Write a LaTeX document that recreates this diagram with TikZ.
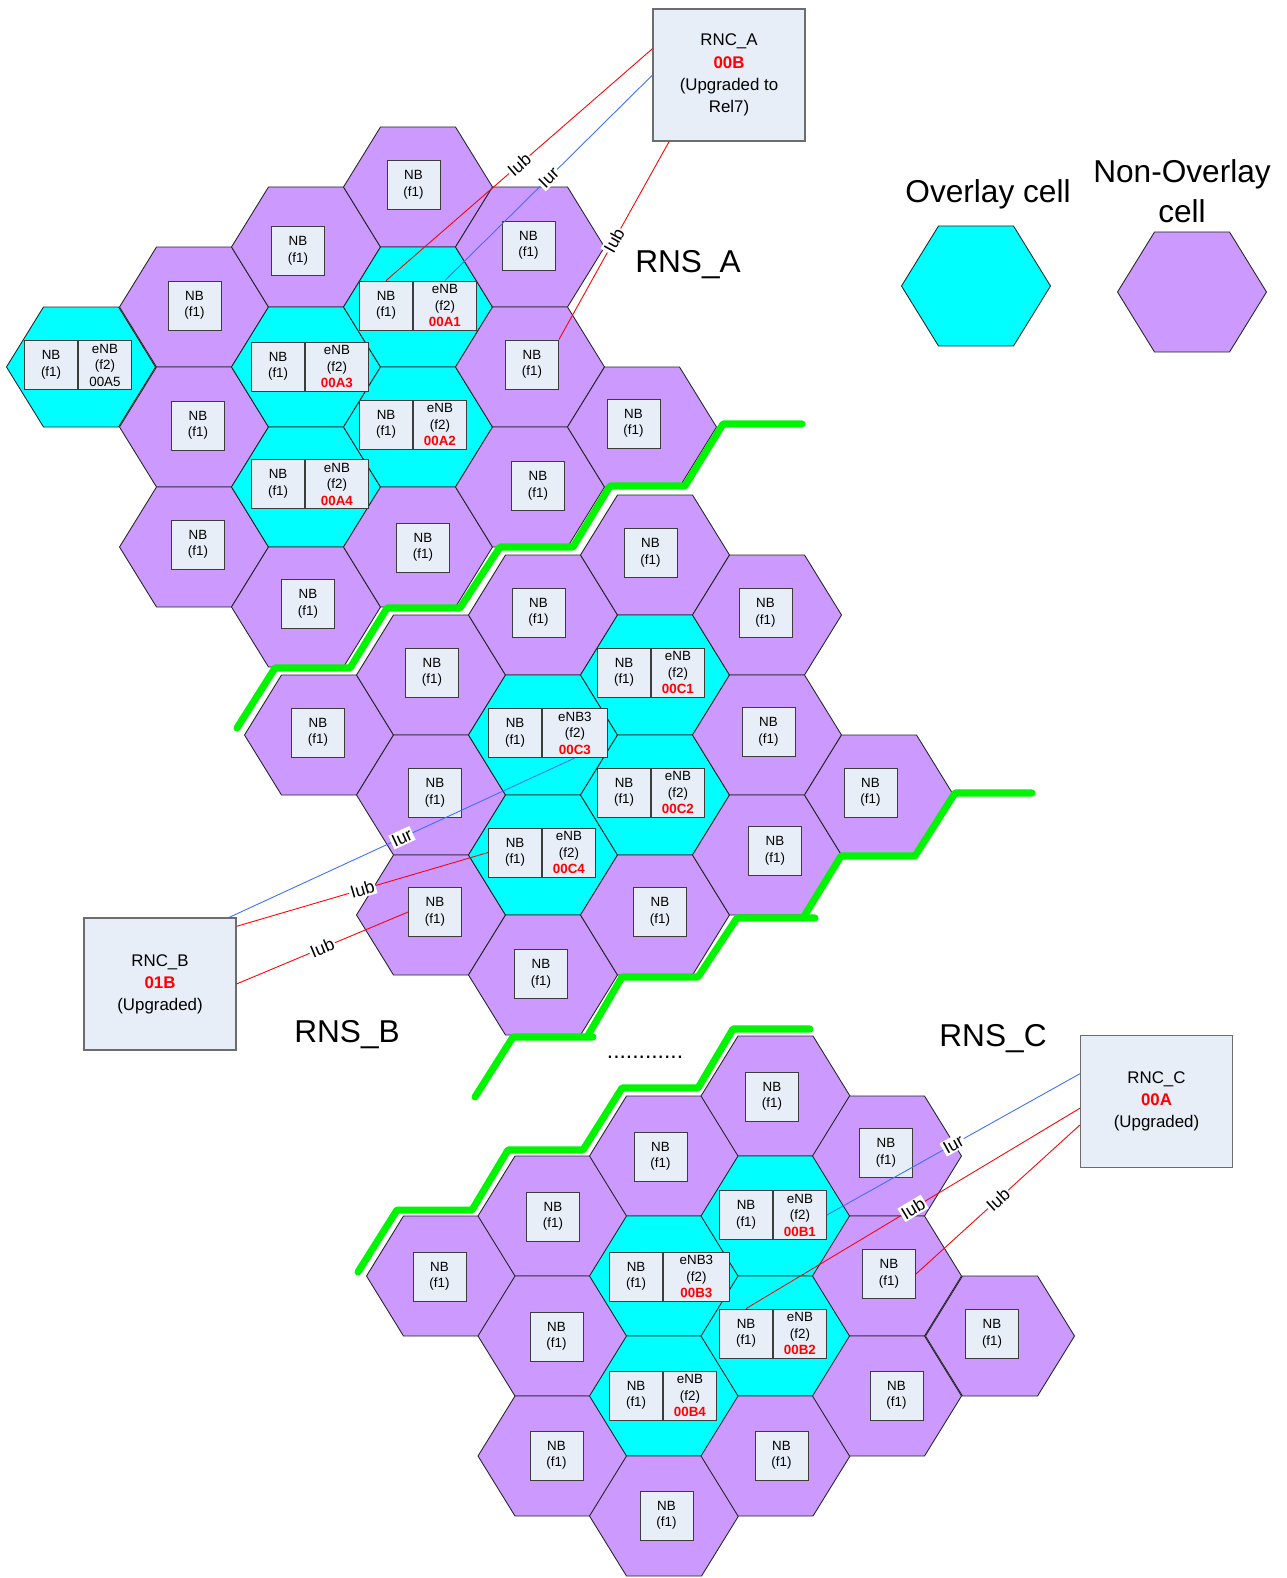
\documentclass[tikz,border=0pt]{standalone}
\usepackage{fontspec}
\setmainfont{Liberation Sans}
\usetikzlibrary{positioning}
\definecolor{cellpurple}{RGB}{204,153,255}
\definecolor{cellcyan}{RGB}{0,255,255}
\definecolor{boxfill}{RGB}{232,238,247}
\definecolor{boxline}{RGB}{60,60,60}
\definecolor{rnsgreen}{RGB}{0,245,0}
\definecolor{iurblue}{RGB}{60,110,255}
\definecolor{codered}{RGB}{255,0,0}

\tikzset{
  hexedge/.style={draw=black!85, line width=0.5pt},
  nbbox/.style={draw=boxline, fill=boxfill, line width=0.5pt, minimum width=1.06cm, minimum height=0.98cm, inner sep=0pt, align=center, font=\fontsize{7.6}{9.4}\selectfont},
  enbwide/.style={nbbox, minimum width=1.26cm},
  rncbox/.style={draw=boxline!75, fill=boxfill, line width=0.6pt, minimum width=3.04cm, minimum height=2.64cm, inner sep=0pt, align=center, font=\fontsize{9.6}{12.6}\selectfont},
  rnslabel/.style={font=\fontsize{18}{22}\selectfont, inner sep=0pt},
  linklabel/.style={fill=white, inner sep=0.8pt, sloped, font=\fontsize{10}{12}\selectfont},
  iub/.style={draw=red, line width=0.5pt},
  iur/.style={draw=iurblue, line width=0.5pt},
  rnsborder/.style={draw=rnsgreen, line width=4pt, line cap=round, line join=round}
}
\newcommand{\hexcell}[3]{%
  \filldraw[hexedge, fill=#3] (#1,#2) ++(-74.5,0) -- ++(37,-60) -- ++(75,0) -- ++(37,60) -- ++(-37,60) -- ++(-75,0) -- cycle;}
\newcommand{\cellcode}[1]{\textcolor{codered}{\bfseries #1}}

\begin{document}
\begin{tikzpicture}[x=0.02cm, y=-0.02cm]
  \useasboundingbox (0,0) rectangle (1287,1578);

  % RNS_A cells
  \hexcell{81}{367}{cellcyan}
  \hexcell{194}{307}{cellpurple}
  \hexcell{194}{427}{cellpurple}
  \hexcell{194}{547}{cellpurple}
  \hexcell{306}{247}{cellpurple}
  \hexcell{306}{367}{cellcyan}
  \hexcell{306}{487}{cellcyan}
  \hexcell{306}{607}{cellpurple}
  \hexcell{418}{187}{cellpurple}
  \hexcell{418}{307}{cellcyan}
  \hexcell{418}{427}{cellcyan}
  \hexcell{418}{547}{cellpurple}
  \hexcell{530}{247}{cellpurple}
  \hexcell{530}{367}{cellpurple}
  \hexcell{530}{487}{cellpurple}
  \hexcell{642}{427}{cellpurple}

  % RNS_B cells
  \hexcell{319}{735}{cellpurple}
  \hexcell{431}{675}{cellpurple}
  \hexcell{431}{795}{cellpurple}
  \hexcell{431}{915}{cellpurple}
  \hexcell{543}{615}{cellpurple}
  \hexcell{543}{735}{cellcyan}
  \hexcell{543}{855}{cellcyan}
  \hexcell{543}{975}{cellpurple}
  \hexcell{655}{555}{cellpurple}
  \hexcell{655}{675}{cellcyan}
  \hexcell{655}{795}{cellcyan}
  \hexcell{655}{915}{cellpurple}
  \hexcell{767}{615}{cellpurple}
  \hexcell{767}{735}{cellpurple}
  \hexcell{767}{855}{cellpurple}
  \hexcell{879}{795}{cellpurple}

  % RNS_C cells
  \hexcell{441}{1276}{cellpurple}
  \hexcell{552.5}{1216}{cellpurple}
  \hexcell{552.5}{1336}{cellpurple}
  \hexcell{552.5}{1456}{cellpurple}
  \hexcell{664}{1156}{cellpurple}
  \hexcell{664}{1276}{cellcyan}
  \hexcell{664}{1396}{cellcyan}
  \hexcell{664}{1516}{cellpurple}
  \hexcell{775.5}{1096}{cellpurple}
  \hexcell{775.5}{1216}{cellcyan}
  \hexcell{775.5}{1336}{cellcyan}
  \hexcell{775.5}{1456}{cellpurple}
  \hexcell{887}{1156}{cellpurple}
  \hexcell{887}{1276}{cellpurple}
  \hexcell{887}{1396}{cellpurple}
  \hexcell{1000}{1336}{cellpurple}

  % Legend
  \hexcell{976}{286}{cellcyan}
  \hexcell{1192}{292}{cellpurple}
  \node[rnslabel, anchor=base] (overlaytext) at (988,203) {Overlay cell};
  \node[rnslabel, anchor=base] (nonoverlaytext) at (1182,183) {Non-Overlay};
  \node[rnslabel, anchor=base] (nonoverlaycell) at (1182,223) {cell};

  % RNS borders
  \draw[rnsborder] (802,424) -- (723,424) -- (685,486) -- (610,486) -- (573,547) -- (500,547) -- (460,608) -- (387,608) -- (350,668) -- (275,668) -- (237,728);
  \draw[rnsborder] (1032,793) -- (955,793) -- (915,856) -- (841,856) -- (803,918);
  \draw[rnsborder] (815,918) -- (737,918) -- (698,977) -- (622,977) -- (587,1037);
  \draw[rnsborder] (593,1037) -- (513,1037) -- (475,1097);
  \draw[rnsborder] (810,1029) -- (733,1029) -- (698,1088) -- (622,1088) -- (583,1150) -- (508,1150) -- (472,1210) -- (397,1210) -- (358,1272);

  % RNS_A base stations
  \node[nbbox] (nba1) at (413.5,185) {NB\\(f1)};
  \node[nbbox] (nba2) at (298,251) {NB\\(f1)};
  \node[nbbox] (nba3) at (194.5,305.5) {NB\\(f1)};
  \node[nbbox] (nba4) at (528.5,245.5) {NB\\(f1)};
  \node[nbbox] (nba5) at (532,364.5) {NB\\(f1)};
  \node[nbbox] (nba6) at (198,425.5) {NB\\(f1)};
  \node[nbbox] (nba7) at (633.5,423.5) {NB\\(f1)};
  \node[nbbox] (nba8) at (538,486) {NB\\(f1)};
  \node[nbbox] (nba9) at (198,544.5) {NB\\(f1)};
  \node[nbbox] (nba10) at (423,547.5) {NB\\(f1)};
  \node[nbbox] (nba11) at (308,604) {NB\\(f1)};

  \node[nbbox, anchor=east] (nbA5) at (78,365) {NB\\(f1)};
  \node[nbbox, anchor=west] (enbA5) at (nbA5.east) {eNB\\(f2)\\00A5};
  \node[nbbox, anchor=east] (nbA3) at (305,366.5) {NB\\(f1)};
  \node[enbwide, anchor=west] (enbA3) at (nbA3.east) {eNB\\(f2)\\\cellcode{00A3}};
  \node[nbbox, anchor=east] (nbA1) at (413,305.5) {NB\\(f1)};
  \node[enbwide, anchor=west] (enbA1) at (nbA1.east) {eNB\\(f2)\\\cellcode{00A1}};
  \node[nbbox, anchor=east] (nbA2) at (413,424.5) {NB\\(f1)};
  \node[nbbox, anchor=west] (enbA2) at (nbA2.east) {eNB\\(f2)\\\cellcode{00A2}};
  \node[nbbox, anchor=east] (nbA4) at (305,484) {NB\\(f1)};
  \node[enbwide, anchor=west] (enbA4) at (nbA4.east) {eNB\\(f2)\\\cellcode{00A4}};

  % RNS_B base stations
  \node[nbbox] (nbb1) at (650.5,553) {NB\\(f1)};
  \node[nbbox] (nbb2) at (538.5,612.5) {NB\\(f1)};
  \node[nbbox] (nbb3) at (765.5,613) {NB\\(f1)};
  \node[nbbox] (nbb4) at (432,672.5) {NB\\(f1)};
  \node[nbbox] (nbb5) at (318,732.5) {NB\\(f1)};
  \node[nbbox] (nbb6) at (768.5,732) {NB\\(f1)};
  \node[nbbox] (nbb7) at (435,793) {NB\\(f1)};
  \node[nbbox] (nbb8) at (870.5,792.5) {NB\\(f1)};
  \node[nbbox] (nbb9) at (775,851) {NB\\(f1)};
  \node[nbbox] (nbb10) at (435,912) {NB\\(f1)};
  \node[nbbox] (nbb11) at (660,912) {NB\\(f1)};
  \node[nbbox] (nbb12) at (541,974) {NB\\(f1)};

  \node[nbbox, anchor=east] (nbC1) at (651,672.5) {NB\\(f1)};
  \node[nbbox, anchor=west] (enbC1) at (nbC1.east) {eNB\\(f2)\\\cellcode{00C1}};
  \node[nbbox, anchor=east] (nbC3) at (542,733) {NB\\(f1)};
  \node[enbwide, minimum width=1.3cm, anchor=west] (enbC3) at (nbC3.east) {eNB3\\(f2)\\\cellcode{00C3}};
  \node[nbbox, anchor=east] (nbC2) at (651,792.5) {NB\\(f1)};
  \node[nbbox, anchor=west] (enbC2) at (nbC2.east) {eNB\\(f2)\\\cellcode{00C2}};
  \node[nbbox, anchor=east] (nbC4) at (542,852.5) {NB\\(f1)};
  \node[nbbox, anchor=west] (enbC4) at (nbC4.east) {eNB\\(f2)\\\cellcode{00C4}};

  % RNS_C base stations
  \node[nbbox] (nbc1) at (772,1096.5) {NB\\(f1)};
  \node[nbbox] (nbc2) at (660.5,1156.5) {NB\\(f1)};
  \node[nbbox] (nbc3) at (886,1153) {NB\\(f1)};
  \node[nbbox] (nbc4) at (553,1216.5) {NB\\(f1)};
  \node[nbbox] (nbc5) at (439.5,1276.5) {NB\\(f1)};
  \node[nbbox] (nbc6) at (889,1274) {NB\\(f1)};
  \node[nbbox] (nbc7) at (556.5,1336.5) {NB\\(f1)};
  \node[nbbox] (nbc8) at (992,1334) {NB\\(f1)};
  \node[nbbox] (nbc9) at (896.5,1395.5) {NB\\(f1)};
  \node[nbbox] (nbc10) at (556.5,1455.5) {NB\\(f1)};
  \node[nbbox] (nbc11) at (781.5,1455.5) {NB\\(f1)};
  \node[nbbox] (nbc12) at (666.5,1515.5) {NB\\(f1)};

  \node[nbbox, anchor=east] (nbB1) at (773,1215) {NB\\(f1)};
  \node[nbbox, anchor=west] (enbB1) at (nbB1.east) {eNB\\(f2)\\\cellcode{00B1}};
  \node[nbbox, anchor=east] (nbB3) at (663,1276.5) {NB\\(f1)};
  \node[enbwide, minimum width=1.32cm, anchor=west] (enbB3) at (nbB3.east) {eNB3\\(f2)\\\cellcode{00B3}};
  \node[nbbox, anchor=east] (nbB2) at (773,1333.5) {NB\\(f1)};
  \node[nbbox, anchor=west] (enbB2) at (nbB2.east) {eNB\\(f2)\\\cellcode{00B2}};
  \node[nbbox, anchor=east] (nbB4) at (663,1395.5) {NB\\(f1)};
  \node[nbbox, anchor=west] (enbB4) at (nbB4.east) {eNB\\(f2)\\\cellcode{00B4}};

  % Controllers
  \node[rncbox] (rncA) at (729,75) {RNC\_A\\\cellcode{00B}\\(Upgraded to\\Rel7)};
  \node[rncbox] (rncB) at (160,984) {RNC\_B\\\cellcode{01B}\\(Upgraded)};
  \node[rncbox] (rncC) at (1156.5,1101.5) {RNC\_C\\\cellcode{00A}\\(Upgraded)};

  \node[rnslabel, anchor=base] (rnsA) at (688,273) {RNS\_A};
  \node[rnslabel, anchor=base] (rnsB) at (347,1042) {RNS\_B};
  \node[rnslabel, anchor=base] (rnsC) at (993,1046) {RNS\_C};
  \node[font=\fontsize{13}{15}\selectfont, anchor=base, inner sep=0pt] (gapdots) at (645,1058) {............};

  % Iub / Iur links
  \draw[iub] (rncA.161) -- node[linklabel] {Iub} (nbA1.north);
  \draw[iur] (rncA.west) -- node[linklabel] {Iur} (enbA1.north);
  \draw[iub] (rncA.228) -- node[linklabel] {Iub} (nba5.north east);

  \draw[iur] (rncB.44) -- node[linklabel] {Iur} (enbC3.south);
  \draw[iub] (rncB.37) -- node[linklabel] {Iub} (nbC4.west);
  \draw[iub] (rncB.east) -- node[linklabel] {Iub} (nbb10.west);

  \draw[iur] (rncC.160) -- node[linklabel] {Iur} (enbB1.east);
  \draw[iub] (rncC.185) -- node[linklabel] {Iub} (nbB2.north);
  \draw[iub] (rncC.197) -- node[linklabel] {Iub} (nbc6.east);
\end{tikzpicture}
\end{document}
